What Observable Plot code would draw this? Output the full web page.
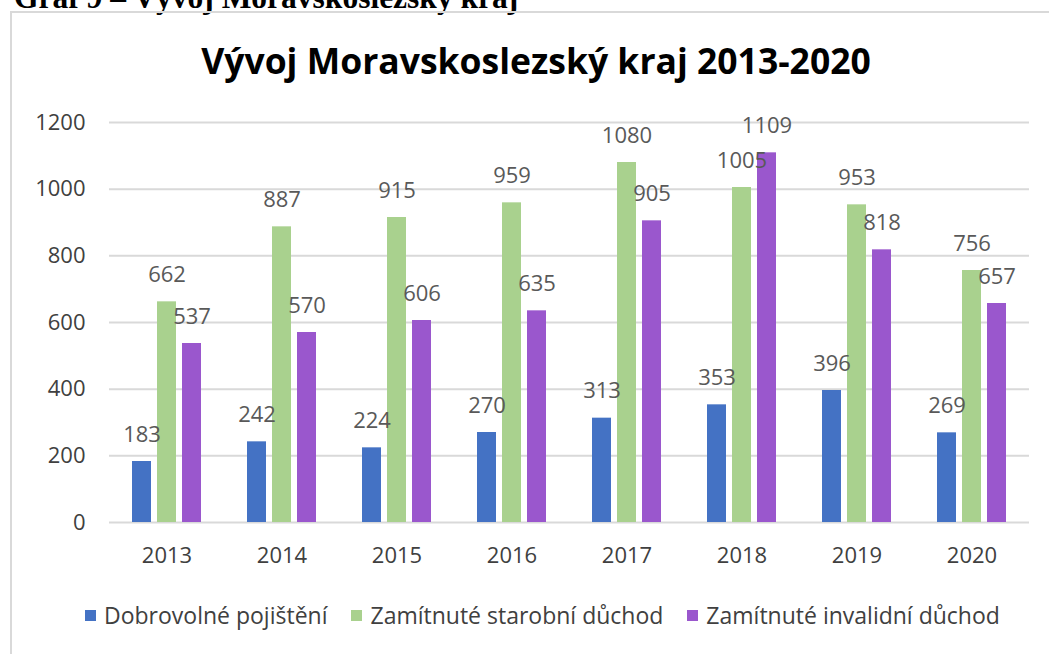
<!DOCTYPE html>
<html><head><meta charset="utf-8">
<script src="https://cdn.jsdelivr.net/npm/d3@7"></script>
<script src="https://cdn.jsdelivr.net/npm/@observablehq/plot@0.6"></script>
<style>
body{margin:0;background:#fff;width:1049px;height:654px;overflow:hidden;position:relative;font-family:"Open Sans",sans-serif}
#hdr{position:absolute;left:14px;top:-18px;font:bold 31.5px "Liberation Serif",serif;line-height:31.5px;white-space:nowrap;color:#000}
#frame{position:absolute;left:10px;top:11px;width:1100px;height:700px;border:2px solid #d9d9d9;box-sizing:border-box}
#title{position:absolute;left:536px;top:38px;transform:translateX(-50%);font-weight:700;font-size:35.5px;white-space:nowrap;color:#000;line-height:44px}
#chart{position:absolute;left:0;top:0}
#legend{position:absolute;top:600px;left:85px;display:flex;gap:24px;font-size:23px;color:#404040;line-height:30px;white-space:nowrap}
#legend span.it{display:flex;align-items:center;gap:8px}
#legend i{display:inline-block;width:11px;height:11px}
</style></head>
<body>
<div id="hdr">Graf 9 – Vývoj Moravskoslezský kraj</div>
<div id="frame"></div>
<div id="chart"></div>
<div id="title">Vývoj Moravskoslezský kraj 2013-2020</div>
<div id="legend"></div>
<script>
const years = ["2013","2014","2015","2016","2017","2018","2019","2020"];
const seriesNames = ["Dobrovolné pojištění","Zamítnuté starobní důchod","Zamítnuté invalidní důchod"];
const dobrovolne = [183,242,224,270,313,353,396,269];
const starobni = [662,887,915,959,1080,1005,953,756];
const invalidni = [537,570,606,635,905,1109,818,657];
const colors = ["#4472C4","#A9D18E","#9A57CD"];
const yTicks = [0,200,400,600,800,1000,1200];

const valuesBySeries = [dobrovolne, starobni, invalidni];
const data = years.flatMap((y,i)=>seriesNames.map((s,j)=>({year:y, series:s, value:valuesBySeries[j][i]})));

const chart = Plot.plot({
  width:1049, height:590,
  marginLeft:107, marginRight:19, marginTop:122, marginBottom:68,
  style:{fontFamily:'"Open Sans", sans-serif', fontSize:"22px", color:"#404040", background:"transparent", overflow:"visible"},
  fx:{domain:years, paddingInner:0, paddingOuter:0, label:null},
  x:{domain:seriesNames, paddingInner:0.235, paddingOuter:0.88, axis:null},
  y:{domain:[0,1200], label:null},
  color:{domain:seriesNames, range:colors},
  marks:[
    Plot.ruleY(yTicks, {stroke:"#d9d9d9", strokeWidth:2}),
    Plot.barY(data, {fx:"year", x:"series", y:"value", fill:"series"}),
    Plot.text(data, {fx:"year", x:"series", y:"value", text:d=>String(d.value), dy:-27, lineAnchor:"middle", fill:"#595959", fontSize:22}),
    Plot.axisY(yTicks, {tickSize:0, tickPadding:24, label:null, fontSize:22, fill:"#404040", tickFormat:d=>String(d)}),
    Plot.axisFx({anchor:"bottom", tickSize:0, tickPadding:25, label:null, fontSize:22, fill:"#404040"})
  ]
});
document.getElementById("chart").appendChild(chart);

const lg = document.getElementById("legend");
seriesNames.forEach((s,i)=>{
  const it = document.createElement("span"); it.className="it";
  const sw = document.createElement("i"); sw.style.background = colors[i];
  const t = document.createElement("span"); t.textContent = s;
  it.appendChild(sw); it.appendChild(t); lg.appendChild(it);
});
</script>
</body></html>
